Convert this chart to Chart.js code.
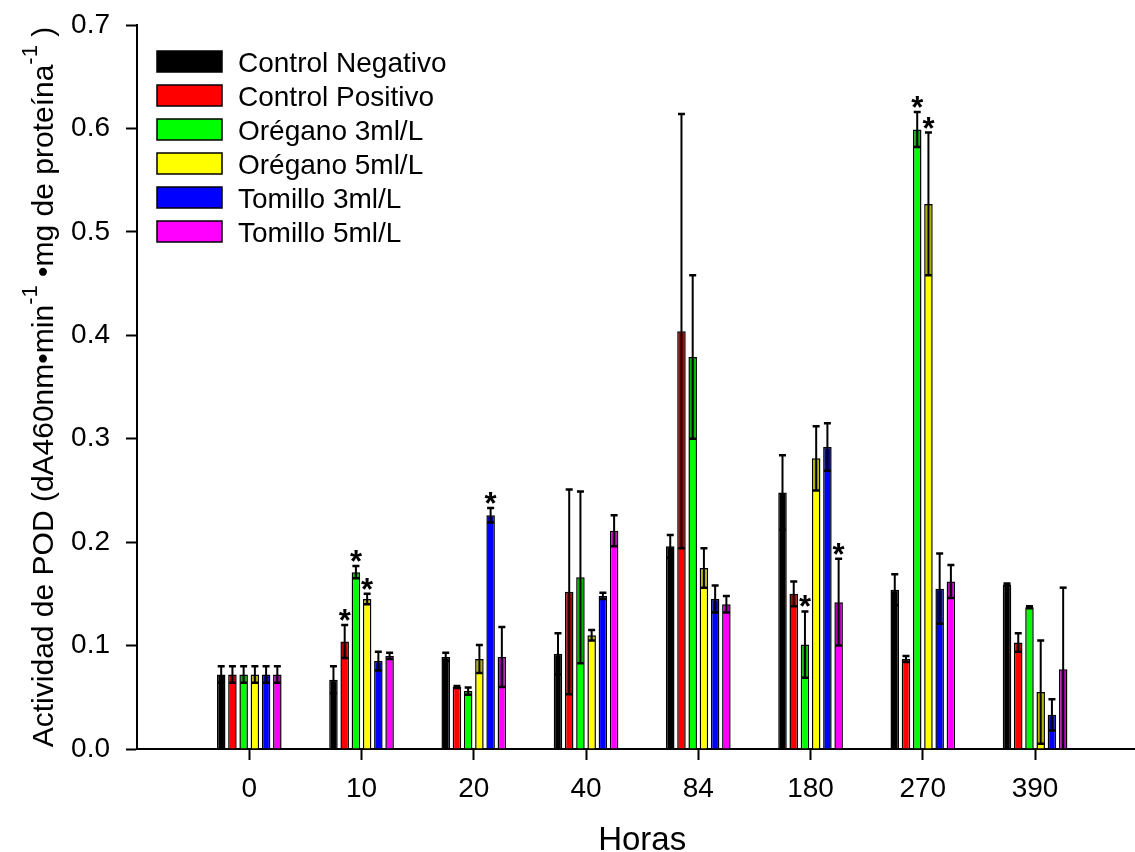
<!DOCTYPE html>
<html>
<head>
<meta charset="utf-8">
<script src="https://cdn.jsdelivr.net/npm/chart.js@4.4.0/dist/chart.umd.min.js"></script>
<style>
    html, body { margin: 0; padding: 0; background: #ffffff; }
    #wrap { width: 1135px; height: 852px; position: relative; }
</style>
</head>
<body>
<div id="wrap"><canvas id="podChart"></canvas></div>
<script>
// Categories (hours)
const horas = ['0', '10', '20', '40', '84', '180', '270', '390'];

// Series names and colours
const seriesNames = ['Control Negativo', 'Control Positivo', 'Orégano 3ml/L', 'Orégano 5ml/L', 'Tomillo 3ml/L', 'Tomillo 5ml/L'];
const seriesColors = ['#000000', '#ff0000', '#00ff00', '#ffff00', '#0000ff', '#ff00ff'];

// Mean values
const controlNegativo = [0.072, 0.067, 0.089, 0.092, 0.196, 0.248, 0.154, 0.159];
const controlPositivo = [0.072, 0.104, 0.060, 0.152, 0.404, 0.150, 0.087, 0.103];
const oregano3 = [0.072, 0.171, 0.056, 0.166, 0.379, 0.101, 0.599, 0.137];
const oregano5 = [0.072, 0.145, 0.087, 0.110, 0.175, 0.281, 0.527, 0.055];
const tomillo3 = [0.072, 0.085, 0.226, 0.148, 0.145, 0.292, 0.155, 0.033];
const tomillo5 = [0.072, 0.090, 0.089, 0.211, 0.140, 0.142, 0.162, 0.077];

// Error bar sizes
const controlNegativoErr = [0.008, 0.013, 0.004, 0.020, 0.011, 0.036, 0.015, 0.001];
const controlPositivoErr = [0.008, 0.016, 0.001, 0.099, 0.210, 0.012, 0.003, 0.009];
const oregano3Err = [0.008, 0.006, 0.0035, 0.083, 0.079, 0.032, 0.017, 0.001];
const oregano5Err = [0.008, 0.005, 0.0135, 0.005, 0.019, 0.031, 0.069, 0.050];
const tomillo3Err = [0.008, 0.009, 0.007, 0.003, 0.013, 0.023, 0.034, 0.015];
const tomillo5Err = [0.008, 0.003, 0.029, 0.015, 0.008, 0.042, 0.016, 0.079];

// Hours marked with a significance asterisk, per series
const controlNegativoSig = [];
const controlPositivoSig = ['10'];
const oregano3Sig = ['10', '180', '270'];
const oregano5Sig = ['10', '270'];
const tomillo3Sig = ['20'];
const tomillo5Sig = ['180'];

// Y axis ticks
const yTicks = [0.0, 0.1, 0.2, 0.3, 0.4, 0.5, 0.6, 0.7];

const allValues = [controlNegativo, controlPositivo, oregano3, oregano5, tomillo3, tomillo5];
const allErrors = [controlNegativoErr, controlPositivoErr, oregano3Err, oregano5Err, tomillo3Err, tomillo5Err];
const allSig = [controlNegativoSig, controlPositivoSig, oregano3Sig, oregano5Sig, tomillo3Sig, tomillo5Sig];

const FONT = "'Liberation Sans', Arial, sans-serif";

// Error bars + asterisks drawn on top of the bars
const errorBarsPlugin = {
    id: 'errorBars',
    afterDatasetsDraw(chart) {
        const ctx = chart.ctx;
        const y = chart.scales.y;
        ctx.save();
        chart.data.datasets.forEach((ds, d) => {
            const meta = chart.getDatasetMeta(d);
            meta.data.forEach((el, i) => {
                const v = allValues[d][i];
                const e = allErrors[d][i];
                const top = el.y;
                const hi = y.getPixelForValue(v + e);
                const lo = y.getPixelForValue(Math.max(0, v - e));
                const w = el.width;

                // darker band inside the bar for the lower half of the error
                if (lo - top > 2) {
                    ctx.fillStyle = 'rgba(0,0,0,0.3)';
                    ctx.fillRect(el.x - w / 2 + 1.5, top + 1, w - 3, lo - top - 1);
                }

                ctx.strokeStyle = '#000';
                ctx.lineWidth = 2;
                ctx.beginPath();
                ctx.moveTo(el.x, hi);
                ctx.lineTo(el.x, lo);
                ctx.stroke();

                ctx.lineWidth = 2.5;
                ctx.beginPath();
                ctx.moveTo(el.x - 3.5, hi);
                ctx.lineTo(el.x + 3.5, hi);
                if (v - e > 0.002) {
                    ctx.moveTo(el.x - w / 2 + 1, lo);
                    ctx.lineTo(el.x + w / 2 - 1, lo);
                }
                ctx.stroke();

                if (allSig[d].includes(horas[i])) {
                    ctx.fillStyle = '#000';
                    ctx.font = 'bold 31px ' + FONT;
                    ctx.textAlign = 'center';
                    ctx.textBaseline = 'alphabetic';
                    ctx.fillText('*', el.x, hi + 6);
                }
            });
        });
        ctx.restore();
    }
};

// Legend inside the plot, top-left
const boxLegendPlugin = {
    id: 'boxLegend',
    afterDraw(chart) {
        const ctx = chart.ctx;
        const ca = chart.chartArea;
        ctx.save();
        ctx.font = '28px ' + FONT;
        ctx.textAlign = 'left';
        ctx.textBaseline = 'alphabetic';
        chart.data.datasets.forEach((ds, i) => {
            const bx = ca.left + 20;
            const by = ca.top + 26 + i * 34;
            ctx.fillStyle = ds.backgroundColor;
            ctx.fillRect(bx, by, 65, 21);
            ctx.strokeStyle = '#000';
            ctx.lineWidth = 1.5;
            ctx.strokeRect(bx, by, 65, 21);
            ctx.fillStyle = '#000';
            ctx.fillText(ds.label, bx + 81, by + 21);
        });
        ctx.restore();
    }
};

// Axis titles (y title has superscripts)
const axisTitlesPlugin = {
    id: 'axisTitles',
    afterDraw(chart) {
        const ctx = chart.ctx;
        const ca = chart.chartArea;
        const x = chart.scales.x;
        ctx.save();
        ctx.fillStyle = '#000';

        ctx.font = '33px ' + FONT;
        ctx.textAlign = 'center';
        ctx.textBaseline = 'alphabetic';
        ctx.fillText('Horas', x.getPixelForValue((horas.length - 1) / 2), 850);

        const parts = [
            { t: 'Actividad de POD (dA460nm•min', sup: false },
            { t: '-1', sup: true },
            { t: ' •mg de proteína', sup: false },
            { t: '-1', sup: true },
            { t: ' )', sup: false }
        ];
        const mainFont = '30px ' + FONT;
        const supFont = '22px ' + FONT;
        let total = 0;
        parts.forEach(p => {
            ctx.font = p.sup ? supFont : mainFont;
            p.w = ctx.measureText(p.t).width;
            total += p.w;
        });
        const cy = 387;
        ctx.translate(53, cy);
        ctx.rotate(-Math.PI / 2);
        ctx.textAlign = 'left';
        let pos = -total / 2;
        parts.forEach(p => {
            ctx.font = p.sup ? supFont : mainFont;
            ctx.fillText(p.t, pos, p.sup ? -16 : 0);
            pos += p.w;
        });
        ctx.restore();
    }
};

const datasets = seriesNames.map((name, d) => ({
    label: name,
    data: allValues[d].map((v, i) => ({ x: i, y: v })),
    backgroundColor: seriesColors[d],
    borderColor: '#000000',
    borderWidth: 1.5,
    categoryPercentage: 0.6,
    barPercentage: 0.76
}));

new Chart(document.getElementById('podChart'), {
    type: 'bar',
    data: { datasets: datasets },
    plugins: [errorBarsPlugin, boxLegendPlugin, axisTitlesPlugin],
    options: {
        responsive: true,
        maintainAspectRatio: false,
        animation: false,
        layout: { padding: { top: 25, right: 0, bottom: 0, left: 0 } },
        plugins: {
            legend: { display: false },
            tooltip: { enabled: false }
        },
        scales: {
            x: {
                type: 'linear',
                min: -1,
                max: 7.89,
                offset: false,
                grid: {
                    offset: false,
                    drawOnChartArea: false,
                    drawTicks: true,
                    tickLength: 11,
                    tickWidth: 2,
                    tickColor: '#000'
                },
                border: { display: true, color: '#000', width: 2 },
                afterBuildTicks: (scale) => {
                    scale.ticks = horas.map((h, i) => ({ value: i }));
                },
                ticks: {
                    color: '#000',
                    font: { family: FONT, size: 28 },
                    padding: 12,
                    maxRotation: 0,
                    autoSkip: false,
                    callback: (v) => horas[v]
                },
                afterFit: (scale) => { scale.height = 103; }
            },
            y: {
                min: 0,
                max: 0.7,
                grid: {
                    drawOnChartArea: false,
                    drawTicks: true,
                    tickLength: 11,
                    tickWidth: 2,
                    tickColor: '#000'
                },
                border: { display: true, color: '#000', width: 2 },
                afterBuildTicks: (scale) => {
                    scale.ticks = yTicks.map(v => ({ value: v }));
                },
                ticks: {
                    color: '#000',
                    font: { family: FONT, size: 28 },
                    padding: 16,
                    callback: (v) => v.toFixed(1)
                },
                afterFit: (scale) => {
                    scale.width = 137;
                    scale.paddingTop = 0;
                    scale.paddingBottom = 0;
                }
            }
        }
    }
});
</script>
</body>
</html>
